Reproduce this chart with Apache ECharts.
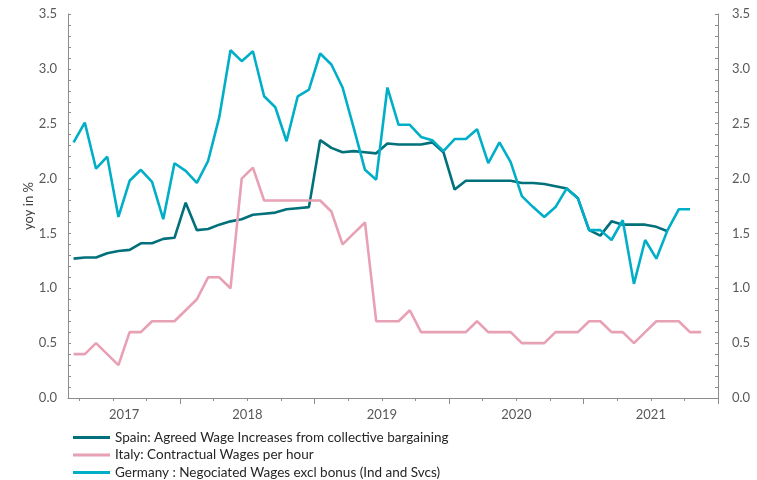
<!DOCTYPE html>
<html>
<head>
<meta charset="utf-8">
<script src="https://cdn.jsdelivr.net/npm/echarts@6/dist/echarts.min.js"></script>
<style>
html,body{margin:0;padding:0;background:#fff;}
#chart{width:757px;height:480px;}
</style>
</head>
<body>
<div id="chart"></div>
<script>
// Monthly categories: Mar 2017 .. Dec 2021
var months = [];
(function(){
  var y = 2017, m = 3;
  while (y < 2022) {
    months.push(y + '-' + (m < 10 ? '0' + m : m));
    m++; if (m > 12) { m = 1; y++; }
  }
})();

var spain = [1.27,1.28,1.28,1.32,1.34,1.35,1.41,1.41,1.45,1.46,
             1.78,1.53,1.54,1.58,1.61,1.63,1.67,1.68,1.69,1.72,
             1.73,1.74,2.35,2.28,2.24,2.25,2.24,2.23,2.32,2.31,
             2.31,2.31,2.33,2.24,1.90,1.98,1.98,1.98,1.98,1.98,
             1.96,1.96,1.95,1.93,1.91,1.82,1.53,1.48,1.61,1.58,
             1.58,1.58,1.56,1.52];

var italy = [0.4,0.4,0.5,0.4,0.3,0.6,0.6,0.7,0.7,0.7,
             0.8,0.9,1.1,1.1,1.0,2.0,2.1,1.8,1.8,1.8,
             1.8,1.8,1.8,1.7,1.4,1.5,1.6,0.7,0.7,0.7,
             0.8,0.6,0.6,0.6,0.6,0.6,0.7,0.6,0.6,0.6,
             0.5,0.5,0.5,0.6,0.6,0.6,0.7,0.7,0.6,0.6,
             0.5,0.6,0.7,0.7,0.7,0.6,0.6];

var germany = [2.33,2.51,2.09,2.20,1.65,1.98,2.08,1.97,1.63,2.14,
               2.07,1.96,2.16,2.56,3.17,3.07,3.16,2.75,2.65,2.34,
               2.75,2.81,3.14,3.04,2.83,2.46,2.08,1.99,2.83,2.49,
               2.49,2.38,2.35,2.25,2.36,2.36,2.45,2.14,2.33,2.15,
               1.84,1.74,1.65,1.74,1.91,1.82,1.53,1.53,1.44,1.62,
               1.04,1.44,1.27,1.53,1.72,1.72];

var seriesNames = [
  'Spain: Agreed Wage Increases from collective bargaining',
  'Italy: Contractual Wages per hour',
  'Germany : Negociated Wages excl bonus (Ind and Svcs)'
];
var yTickLabels = ['0.0','0.5','1.0','1.5','2.0','2.5','3.0','3.5'];

// year label placed at the middle of each year's visible months
var yearLabelAt = {};
(function(){
  var groups = {};
  months.forEach(function(mo, i){
    var yr = mo.slice(0,4);
    if (!groups[yr]) groups[yr] = [];
    groups[yr].push(i);
  });
  Object.keys(groups).forEach(function(yr){
    var g = groups[yr];
    yearLabelAt[g[0] + Math.floor(g.length / 2)] = yr;
  });
})();

var axisGrey = '#8c8c8c';
var labelGrey = '#595959';
var FONT = 'Lato, "Noto Sans", sans-serif';

var chart = echarts.init(document.getElementById('chart'), null, {renderer:'canvas'});

function yAxisCfg(pos) {
  return {
    type: 'value', position: pos, min: 0, max: 3.5, interval: 0.5,
    axisLine: {show: true, lineStyle: {color: axisGrey, width: 1}},
    axisTick: {show: true, inside: true, length: 3, lineStyle: {color: axisGrey}},
    minorTick: {show: true, splitNumber: 5, length: 3, lineStyle: {color: axisGrey}},
    splitLine: {show: false},
    axisLabel: {
      color: labelGrey, fontSize: 13, fontFamily: FONT, margin: pos === 'left' ? 11 : 14,
      formatter: function(v){ return yTickLabels[Math.round(v / 0.5)]; }
    }
  };
}

var left = yAxisCfg('left');
left.name = 'yoy in %';
left.nameLocation = 'middle';
left.nameRotate = 90;
left.nameGap = 33;
left.nameMoveOverlap = false;
left.nameTextStyle = {color: '#404040', fontSize: 13, fontFamily: FONT};

var option = {
  backgroundColor: '#ffffff',
  animation: false,
  grid: {left: 68, right: 39, top: 14, bottom: 82},
  legend: {
    orient: 'vertical', left: 73, top: 430, height: 52, padding: 0,
    icon: 'rect', itemWidth: 37, itemHeight: 3, itemGap: 2.5,
    textStyle: {color: '#262626', fontSize: 13.5, fontFamily: FONT, lineHeight: 15},
    data: seriesNames
  },
  xAxis: [{
    type: 'category', data: months, boundaryGap: true, position: 'bottom',
    axisLine: {show: true, lineStyle: {color: axisGrey, width: 1}},
    axisTick: {show: true, length: 3, lineStyle: {color: axisGrey},
      interval: function(i){ return (i - 1) % 3 === 0 && months[i].slice(5) !== '01'; }},
    axisLabel: {
      color: labelGrey, fontSize: 13, fontFamily: FONT, margin: 10,
      padding: [0, 11, 0, 0],
      interval: function(i){ return yearLabelAt[i] !== undefined; },
      formatter: function(v, i){ return yearLabelAt[i] || ''; }
    },
    splitLine: {show: false}
  }, {
    type: 'category', data: months, boundaryGap: true, position: 'bottom',
    axisLine: {show: false},
    axisTick: {show: true, length: 6, lineStyle: {color: axisGrey},
      interval: function(i){ return months[i].slice(5) === '01'; }},
    axisLabel: {show: false},
    splitLine: {show: false}
  }],
  yAxis: [left, yAxisCfg('right')],
  series: [
    {name: seriesNames[0], type: 'line', data: spain, symbol: 'none',
     lineStyle: {color: '#00707a', width: 2.6}, itemStyle: {color: '#00707a'}},
    {name: seriesNames[1], type: 'line', data: italy, symbol: 'none',
     lineStyle: {color: '#e8a1b4', width: 2.6}, itemStyle: {color: '#e8a1b4'}},
    {name: seriesNames[2], type: 'line', data: germany, symbol: 'none',
     lineStyle: {color: '#00afc7', width: 2.6}, itemStyle: {color: '#00afc7'}}
  ]
};
chart.setOption(option);
</script>
</body>
</html>
